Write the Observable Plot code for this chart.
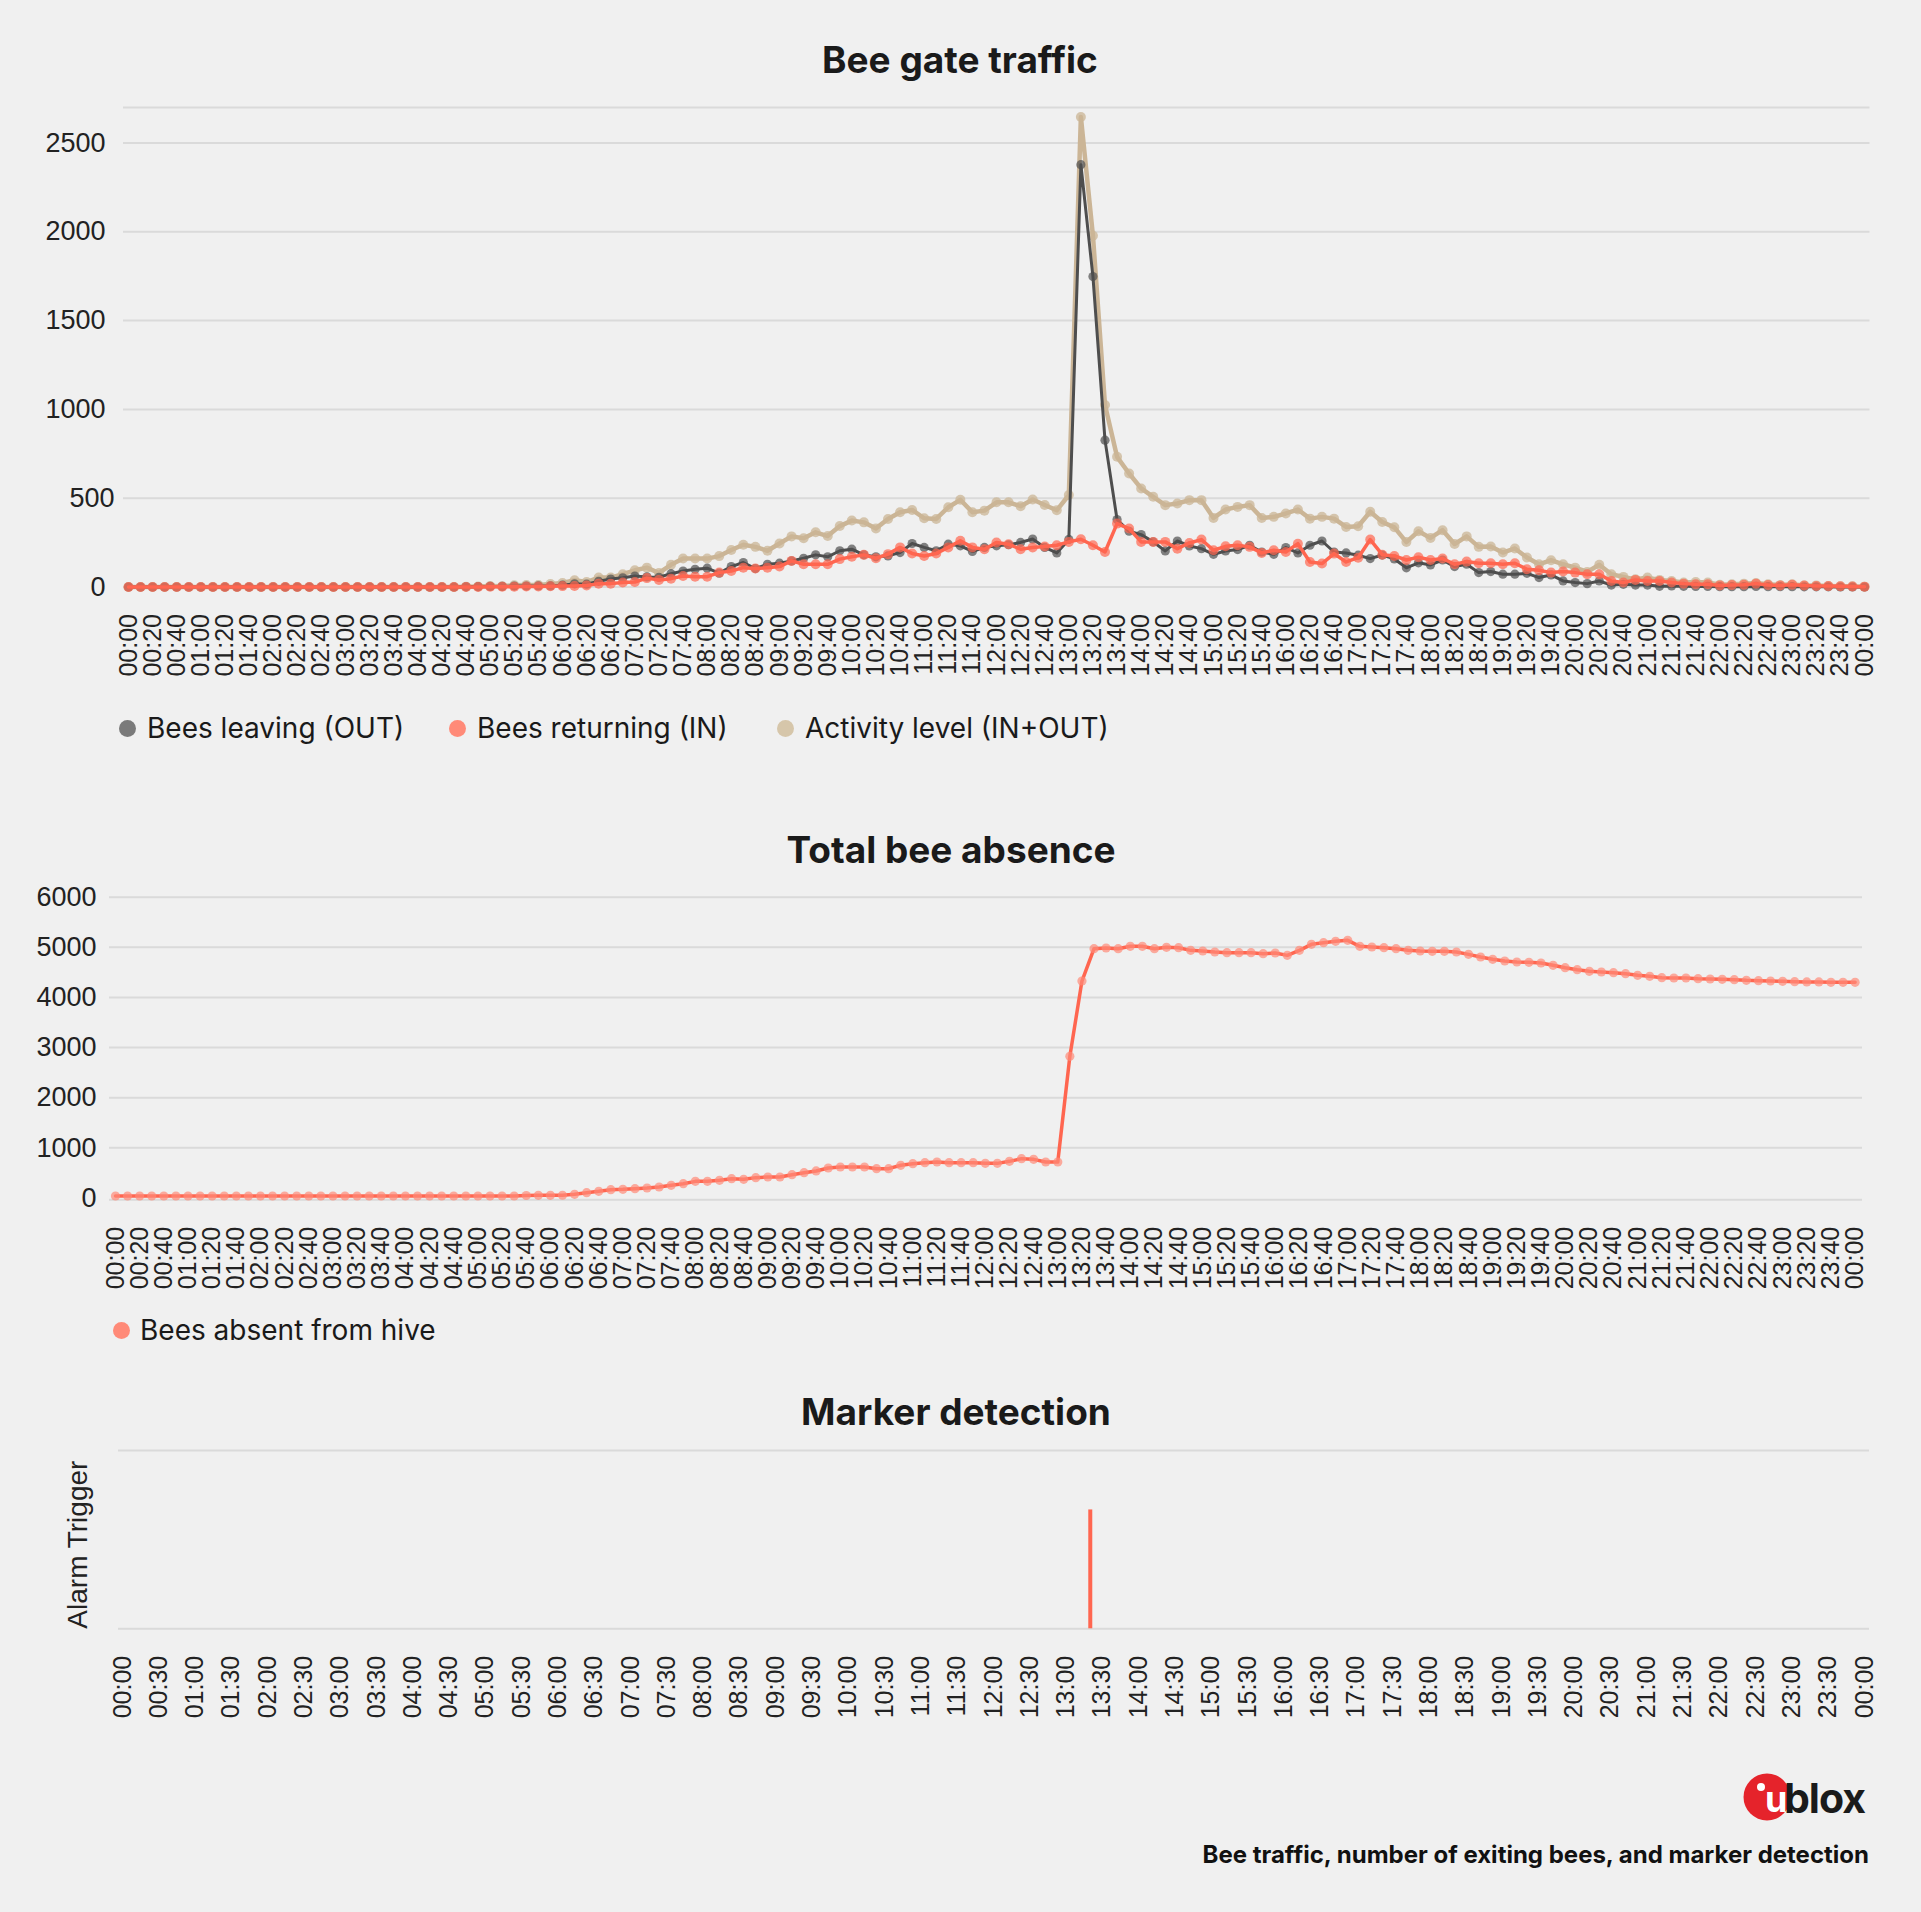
<!DOCTYPE html>
<html>
<head>
<meta charset="utf-8">
<script src="https://cdn.jsdelivr.net/npm/d3@7"></script>
<script src="https://cdn.jsdelivr.net/npm/@observablehq/plot@0.6"></script>
<style>
  html, body { margin: 0; padding: 0; background: #f0f0f0; }
  #page { position: relative; width: 1921px; height: 1912px; background: #f0f0f0; overflow: hidden; }
  .title { position: absolute; width: 800px; text-align: center; font-family: Inter, "Noto Sans", sans-serif; font-weight: 700; font-size: 37px; color: #1a1a1a; line-height: 1; }
  .chart { position: absolute; left: 0; }
  .leg { position: absolute; font-family: Inter, "Noto Sans", sans-serif; font-size: 28px; color: #1a1a1a; line-height: 1; white-space: nowrap; }
  .dot { position: absolute; width: 17px; height: 17px; border-radius: 50%; }
  #caption { position: absolute; right: 52px; top: 1843px; font-family: Inter, "Noto Sans", sans-serif; font-weight: 700; font-size: 24px; color: #111; line-height: 1; white-space: nowrap; }
  #logo { position: absolute; left: 1735px; top: 1765px; }
</style>
</head>
<body>
<div id="page">
  <div class="title" style="top:41px;left:560px">Bee gate traffic</div>
  <div class="chart" id="c1" style="top:80px"></div>
  <div class="dot" style="left:119px;top:720px;background:#7a7a7a"></div>
  <div class="leg" style="left:147px;top:714px">Bees leaving (OUT)</div>
  <div class="dot" style="left:449px;top:720px;background:#ff8a78"></div>
  <div class="leg" style="left:477px;top:714px">Bees returning (IN)</div>
  <div class="dot" style="left:777px;top:720px;background:#d6c6aa"></div>
  <div class="leg" style="left:805px;top:714px">Activity level (IN+OUT)</div>

  <div class="title" style="top:831px;left:551px">Total bee absence</div>
  <div class="chart" id="c2" style="top:870px"></div>
  <div class="dot" style="left:113px;top:1322px;background:#ff8a78"></div>
  <div class="leg" style="left:140px;top:1316px">Bees absent from hive</div>

  <div class="title" style="top:1393px;left:556px">Marker detection</div>
  <div class="chart" id="c3" style="top:1400px"></div>

  <svg id="logo" width="140" height="64" viewBox="0 0 140 64">
    <circle cx="32" cy="32" r="23.5" fill="#e5232b"></circle>
    <circle cx="26" cy="22" r="4" fill="#ffffff"></circle>
    <text x="30" y="47" font-family="Inter, 'Noto Sans', sans-serif" font-weight="700" font-size="36" fill="#ffffff">u</text>
    <text x="49" y="48" font-family="Inter, 'Noto Sans', sans-serif" font-weight="700" font-size="41" fill="#1a1a1a" letter-spacing="-1">blox</text>
  </svg>

  <div id="caption">Bee traffic, number of exiting bees, and marker detection</div>
</div>
<script>
// ---------- DATA (10-minute intervals, 00:00 .. 00:00 next day) ----------
const pad = n => String(n).padStart(2, "0");
const minutes = d3.range(0, 1441, 10);
const times = minutes.map(m => pad(Math.floor(m / 60) % 24) + ":" + pad(m % 60));

const beesOut = [
  0,0,0,0,0,0,0,0,0,0, 0,0,0,0,0,0,0,0,0,0, 0,0,0,0,0,0,0,0,1,2,
  3,3,5,5,6,6,10,18,16,32, 45,52,62,57,55,75,90,100,106,78,
  115,138,104,128,134,147,162,181,170,204, 213,181,170,175,194,245,223,204,241,232,
  200,223,232,238,251,270,223,192,268,2378, 1748,827,380,314,295,254,203,259,231,216,
  184,203,211,235,197,184,222,192,235,259, 197,192,179,160,180,158,108,136,124,152,
  115,128,81,87,72,72,77,53,68,34, 25,19,34,11,15,11,11,4,6,4,
  3,3,2,2,2,3,2,2,2,1, 1,1,0,0,0
];
const beesIn = [
  0,0,0,0,0,0,0,0,0,0, 0,0,0,0,0,0,0,0,0,0, 0,0,0,0,0,0,0,0,0,0,
  1,2,2,3,3,4,5,6,9,19, 19,25,28,50,40,47,62,58,58,81,
  90,109,104,109,115,147,128,128,128,157, 170,181,162,185,223,189,175,189,223,260,
  223,213,251,241,213,223,228,235,254,269, 235,197,357,329,254,254,254,216,248,267,
  207,229,235,226,192,207,197,244,141,132, 188,141,165,267,182,175,152,168,152,160,
  128,143,134,134,128,134,100,94,81,87, 81,72,72,34,25,40,34,34,25,19,
  15,15,9,11,13,19,11,9,13,8, 6,5,4,3,2
];
const activity = [
  0,0,0,0,0,0,0,0,0,0, 0,0,0,0,0,0,0,0,0,0, 0,0,0,0,0,0,0,0,2,3,
  5,4,10,11,11,17,23,38,28,53, 53,72,94,109,79,125,160,160,160,174,
  208,238,226,204,245,285,275,308,287,343, 374,364,330,383,421,434,387,383,449,491,
  421,430,477,477,455,493,462,432,518,2647, 1978,1025,733,639,555,508,461,470,489,489,
  389,436,451,461,389,395,414,436,385,395, 385,338,342,424,366,336,253,314,276,320,
  242,285,226,228,194,217,166,128,151,128, 109,85,125,72,57,43,53,40,34,25,
  28,25,13,15,19,23,15,11,15,9, 9,6,4,4,2
];
const absent = [
  40,40,40,40,40,40,40,40,40,40, 40,40,40,40,40,40,40,40,40,40, 40,40,40,40,40,40,40,40,40,40,
  40,40,40,40,50,53,53,55,73,106, 133,166,173,186,199,219,253,286,332,332,
  352,386,372,406,419,419,465,505,539,598, 618,618,618,585,585,652,685,705,718,705,
  705,705,691,691,731,785,771,718,718,2826, 4328,4973,4987,4973,5020,5020,4973,5000,4993,4940,
  4927,4907,4894,4894,4894,4874,4887,4840,4940,5060, 5093,5120,5140,5020,5007,4993,4973,4940,4927,4920,
  4920,4907,4860,4807,4761,4727,4707,4701,4687,4641, 4594,4554,4521,4508,4495,4475,4441,4421,4395,4388,
  4388,4375,4368,4362,4355,4342,4335,4328,4322,4315, 4309,4309,4302,4302,4302
];
const alarmTimes = ["13:20"];
const alarmValues = [1];

const trafficTicks = [0, 500, 1000, 1500, 2000, 2500];
const absenceTicks = [0, 1000, 2000, 3000, 4000, 5000, 6000];

// ---------- helpers ----------
const toMin = t => { const [h, m] = t.split(":").map(Number); return h * 60 + m; };
const fmtMin = m => pad(Math.floor(m / 60) % 24) + ":" + pad(m % 60);
const plain = d => String(d);
const rows = times.map((t, i) => ({ m: minutes[i], out: beesOut[i], inn: beesIn[i], act: activity[i], abs: absent[i] }));

const C_OUT = "#4e4e4e", C_IN = "#ff6650", C_ACT = "#cbb596";
const GRID = "#dadada";
const baseStyle = { background: "transparent", fontFamily: "'Liberation Sans', Arial, sans-serif", fontSize: "25px", color: "#222", overflow: "visible" };

// ---------- Chart 1: Bee gate traffic ----------
const c1 = Plot.plot({
  width: 1921, height: 620,
  marginTop: 27, marginBottom: 113.5, marginLeft: 123, marginRight: 51.5,
  style: baseStyle,
  x: { domain: [0, 1440], insetLeft: 5, insetRight: 5.5 },
  y: { domain: [0, 2700] },
  marks: [
    Plot.ruleY([...trafficTicks, 2700], { stroke: GRID, strokeWidth: 2 }),
    Plot.axisY({ ticks: trafficTicks.filter(d => d !== 500), tickFormat: plain, tickSize: 0, tickPadding: 18, fontSize: 27, label: null }),
    Plot.axisY({ ticks: [500], tickFormat: plain, tickSize: 0, tickPadding: 9, fontSize: 27, label: null }),
    Plot.axisX({ ticks: d3.range(0, 1441, 20), tickFormat: fmtMin, tickRotate: -90, tickSize: 0, tickPadding: 27, fontSize: 25, label: null }),
    Plot.line(rows, { x: "m", y: "act", stroke: C_ACT, strokeWidth: 4.5 }),
    Plot.dot(rows, { x: "m", y: "act", r: 5, fill: C_ACT, fillOpacity: 0.75 }),
    Plot.line(rows, { x: "m", y: "out", stroke: C_OUT, strokeWidth: 3 }),
    Plot.dot(rows, { x: "m", y: "out", r: 4.6, fill: C_OUT, fillOpacity: 0.7 }),
    Plot.line(rows, { x: "m", y: "inn", stroke: C_IN, strokeWidth: 3.5 }),
    Plot.dot(rows, { x: "m", y: "inn", r: 5, fill: C_IN, fillOpacity: 0.7 })
  ]
});
document.getElementById("c1").append(c1);

// ---------- Chart 2: Total bee absence ----------
const c2 = Plot.plot({
  width: 1921, height: 480,
  marginTop: 26.7, marginBottom: 150.7, marginLeft: 109, marginRight: 59,
  style: baseStyle,
  x: { domain: [0, 1440], insetLeft: 6, insetRight: 7.4 },
  y: { domain: [-36, 6000] },
  marks: [
    Plot.ruleY([-36, 1000, 2000, 3000, 4000, 5000, 6000], { stroke: GRID, strokeWidth: 2 }),
    Plot.axisY({ ticks: absenceTicks, tickFormat: plain, tickSize: 0, tickPadding: 13, fontSize: 27, label: null }),
    Plot.axisX({ ticks: d3.range(0, 1441, 20), tickFormat: fmtMin, tickRotate: -90, tickSize: 0, tickPadding: 27, fontSize: 25, label: null }),
    Plot.line(rows, { x: "m", y: "abs", stroke: C_IN, strokeWidth: 3.5 }),
    Plot.dot(rows, { x: "m", y: "abs", r: 4.6, fill: "#ff8a78", fillOpacity: 0.7 })
  ]
});
document.getElementById("c2").append(c2);

// ---------- Chart 3: Marker detection ----------
const alarms = alarmTimes.map((t, i) => ({ m: toMin(t), v: alarmValues[i] }));
const c3 = Plot.plot({
  width: 1921, height: 340,
  marginTop: 50, marginBottom: 111.7, marginLeft: 118, marginRight: 52,
  style: baseStyle,
  x: { domain: [0, 1440], insetLeft: 4, insetRight: 5 },
  y: { domain: [0, 1.5], axis: null },
  marks: [
    Plot.ruleY([0, 1.5], { stroke: GRID, strokeWidth: 2 }),
    Plot.axisX({ ticks: d3.range(0, 1441, 30), tickFormat: fmtMin, tickRotate: -90, tickSize: 0, tickPadding: 27, fontSize: 25, label: null }),
    Plot.ruleX(alarms, { x: "m", y1: 0, y2: "v", stroke: C_IN, strokeWidth: 4 }),
    Plot.text(["Alarm Trigger"], { frameAnchor: "left", dx: -40, dy: 5, rotate: -90, textAnchor: "middle", lineAnchor: "middle", fontSize: 28, fill: "#222" })
  ]
});
document.getElementById("c3").append(c3);
</script>
</body>
</html>
